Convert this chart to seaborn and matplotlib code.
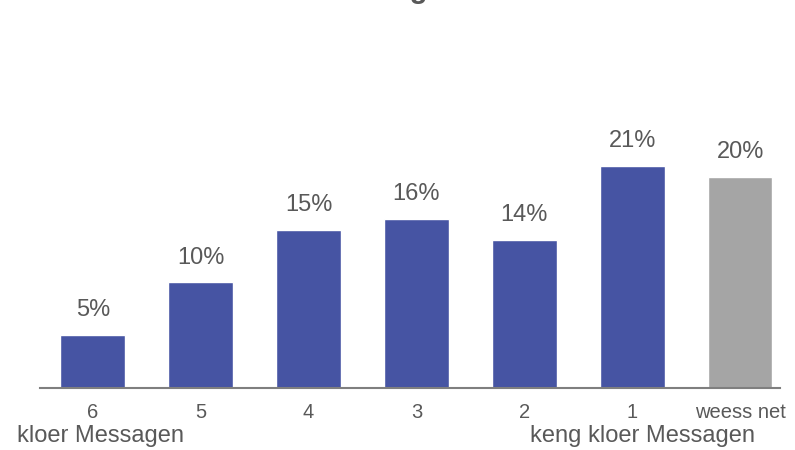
import matplotlib
matplotlib.use("Agg")
import matplotlib.pyplot as plt
import seaborn as sns
import pandas as pd

# Donnéeën
categories = ["6", "5", "4", "3", "2", "1", "weess net"]
values = [5, 10, 15, 16, 14, 21, 20]
bar_colors = ["#4654A3"] * 6 + ["#A5A5A5"]

df = pd.DataFrame({"cat": categories, "val": values})

sns.set_style("white")
plt.rcParams["font.family"] = ["Liberation Sans", "DejaVu Sans"]

fig = plt.figure(figsize=(7.95, 4.5), dpi=100)
ax = fig.add_axes([40 / 795, 62 / 450, 740 / 795, 264 / 450])

sns.barplot(data=df, x="cat", y="val", hue="cat", palette=bar_colors,
            width=0.6, legend=False, ax=ax, saturation=1)

ax.set_ylim(0, 25)
ax.set_xlim(-0.49, 6.37)
for i, v in enumerate(values):
    ax.annotate(f"{v}%", (i, v), xytext=(0, 10), textcoords="offset points",
                ha="center", va="bottom", fontsize=17, color="#595959")

sns.despine(ax=ax, left=True)
ax.spines["bottom"].set_color("#7F7F7F")
ax.spines["bottom"].set_linewidth(1.5)
ax.set_yticks([])
ax.set_xlabel("")
ax.set_ylabel("")
ax.tick_params(axis="x", length=0, pad=11, labelsize=14.5, labelcolor="#595959")

fig.text(17 / 795, 1 - 442 / 450, "kloer Messagen", fontsize=17,
         color="#595959", ha="left", va="baseline")
fig.text(530 / 795, 1 - 442 / 450, "keng kloer Messagen", fontsize=17,
         color="#595959", ha="left", va="baseline")

# Titel, uewen ofgeschnidden wéi am Original
fig.text(45 / 795, 1 + 2 / 450, "Verständnis vun de Messagen is no",
         fontsize=21, fontweight="bold", color="#595959", ha="left",
         va="baseline")

fig.savefig("out.png", dpi=100)
